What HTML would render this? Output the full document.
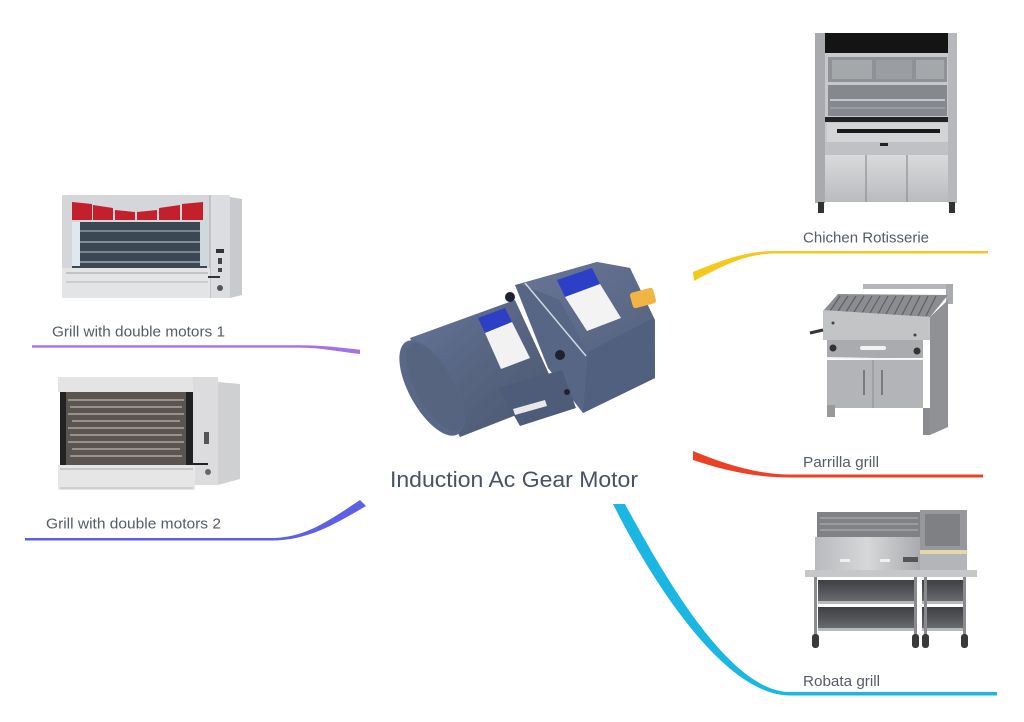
<!DOCTYPE html>
<html>
<head>
<meta charset="utf-8">
<style>
  html,body{margin:0;padding:0;background:#fff;}
  body{width:1024px;height:722px;overflow:hidden;}
  svg{display:block;}
  text{font-family:"Liberation Sans", Arial, sans-serif;}
</style>
</head>
<body>
<svg width="1024" height="722" viewBox="0 0 1024 722" xmlns="http://www.w3.org/2000/svg">
  <defs>
    <linearGradient id="steel" x1="0" y1="0" x2="0" y2="1">
      <stop offset="0" stop-color="#d9dadc"/>
      <stop offset="1" stop-color="#b9bbbe"/>
    </linearGradient>
    <linearGradient id="steelH" x1="0" y1="0" x2="1" y2="0">
      <stop offset="0" stop-color="#b8babd"/>
      <stop offset="0.5" stop-color="#d6d7d9"/>
      <stop offset="1" stop-color="#a9abae"/>
    </linearGradient>
    <linearGradient id="motorBody" x1="0" y1="0" x2="1" y2="1">
      <stop offset="0" stop-color="#65739a"/>
      <stop offset="0.5" stop-color="#56647f"/>
      <stop offset="1" stop-color="#4a566f"/>
    </linearGradient>
    <linearGradient id="gearTop" x1="0" y1="0" x2="1" y2="1">
      <stop offset="0" stop-color="#687596"/>
      <stop offset="1" stop-color="#56637f"/>
    </linearGradient>
    <linearGradient id="shelf" x1="0" y1="0" x2="0" y2="1">
      <stop offset="0" stop-color="#3e3f42"/>
      <stop offset="1" stop-color="#6d6e71"/>
    </linearGradient>
  </defs>

  <!-- ===== Connector curves ===== -->
  <path d="M32,345.3 L300,345.3 C322,345.3 340,347.5 360,349.8 L360,354 C340,352 322,347.6 300,347.6 L32,347.6 Z" fill="#a472e6"/>
  <path d="M25,538 L272,538 C305,538 330,520 360,500 L366,506 C335,524 308,540.5 272,540.5 L25,540.5 Z" fill="#5d5fe6"/>
  <path d="M693,272 C720,261 745,251 775,251 L988,251 L988,253.5 L775,253.5 C746,253.5 722,266 694,281 Z" fill="#f6c81e"/>
  <path d="M693,451 C722,463 756,474.5 790,474.5 L983,474.5 L983,477.5 L790,477.5 C752,477.5 720,469 693,460 Z" fill="#ec4125"/>
  <path d="M613,504 L625,504 C664,576 730,692 790,692 L997,692 L997,695.5 L790,695.5 C724,695.5 651,580 613,504 Z" fill="#1bb7e2"/>

  <!-- ===== Grill with double motors 1 ===== -->
  <g>
    <rect x="62" y="195" width="148" height="103" fill="#d5d6d9"/>
    <rect x="210" y="195" width="20" height="103" fill="#dcdde0"/>
    <polygon points="230,197 242,199 242,295 230,298" fill="#c9cacd"/>
    <line x1="210" y1="195" x2="210" y2="298" stroke="#a8aaad" stroke-width="1"/>
    <polygon points="72,202 92,204 92,220 72,220" fill="#c41f2c"/>
    <polygon points="93,205 113,208 113,220 93,220" fill="#c41f2c"/>
    <polygon points="115,210 135,212 135,220 115,220" fill="#c41f2c"/>
    <polygon points="137,212 157,210 157,220 137,220" fill="#c41f2c"/>
    <polygon points="159,208 180,205 180,220 159,220" fill="#c41f2c"/>
    <polygon points="182,204 203,202 203,220 182,220" fill="#c41f2c"/>
    <rect x="72" y="222" width="135" height="46" fill="#3c4754"/>
    <rect x="72" y="222" width="8" height="44" fill="#dfe8ee"/>
    <rect x="200" y="222" width="7" height="44" fill="#cfd8de"/>
    <line x1="80" y1="231" x2="200" y2="231" stroke="#8e98a3" stroke-width="1.5"/>
    <line x1="80" y1="242" x2="200" y2="242" stroke="#9aa4ae" stroke-width="1.5"/>
    <line x1="80" y1="252" x2="200" y2="252" stroke="#8e98a3" stroke-width="1.5"/>
    <line x1="80" y1="262" x2="200" y2="262" stroke="#a2acb6" stroke-width="1.5"/>
    <rect x="62" y="268" width="148" height="30" fill="#e3e4e6"/>
    <line x1="66" y1="273" x2="208" y2="273" stroke="#9ea0a4" stroke-width="1"/>
    <line x1="66" y1="282" x2="208" y2="282" stroke="#b4b6b9" stroke-width="1"/>
    <rect x="216" y="249" width="8" height="4" fill="#333"/>
    <rect x="218" y="258" width="4" height="6" fill="#444"/>
    <rect x="218" y="268" width="4" height="4" fill="#444"/>
    <circle cx="220" cy="288" r="3" fill="#555"/>
    <rect x="208" y="276" width="12" height="2" fill="#333"/>
  </g>

  <!-- ===== Grill with double motors 2 ===== -->
  <g>
    <rect x="58" y="377" width="137" height="15" fill="#e4e4e5"/>
    <rect x="193" y="377" width="25" height="108" fill="#dcdcde"/>
    <polygon points="218,382 240,384 240,479 218,485" fill="#cfd0d2"/>
    <rect x="60" y="392" width="133" height="73" fill="#5a5550"/>
    <rect x="60" y="392" width="6" height="73" fill="#222"/>
    <rect x="186" y="392" width="7" height="73" fill="#222"/>
    <g stroke="#bdb7ae" stroke-width="1.3">
      <line x1="68" y1="400" x2="184" y2="400"/>
      <line x1="70" y1="407" x2="182" y2="407"/>
      <line x1="68" y1="414" x2="184" y2="414"/>
      <line x1="72" y1="421" x2="180" y2="421"/>
      <line x1="68" y1="428" x2="184" y2="428"/>
      <line x1="70" y1="435" x2="182" y2="435"/>
      <line x1="68" y1="442" x2="184" y2="442"/>
      <line x1="72" y1="449" x2="180" y2="449"/>
      <line x1="70" y1="456" x2="182" y2="456"/>
    </g>
    <rect x="58" y="465" width="137" height="25" fill="#e6e6e7"/>
    <line x1="60" y1="469" x2="193" y2="469" stroke="#aaa" stroke-width="1"/>
    <line x1="60" y1="488" x2="193" y2="488" stroke="#bbb" stroke-width="1"/>
    <rect x="204" y="432" width="5" height="12" fill="#555"/>
    <circle cx="208" cy="472" r="3" fill="#666"/>
    <rect x="190" y="463" width="18" height="2" fill="#222"/>
  </g>

  <!-- ===== Motor ===== -->
  <g>
    <polygon points="410,338 515,300 560,398 460,437" fill="url(#motorBody)"/>
    <ellipse cx="432" cy="388" rx="23" ry="53" transform="rotate(-29 432 388)" fill="#5a6888"/>
    <ellipse cx="435" cy="387" rx="19" ry="49" transform="rotate(-29 435 387)" fill="#56647f"/>
    <polygon points="515,285 597,262 630,268 655,320 655,378 583,413 548,368" fill="#586685"/>
    <polygon points="520,284 597,262 630,268 653,318 588,352 560,300" fill="url(#gearTop)"/>
    <polygon points="588,352 653,318 655,378 583,413" fill="#526080"/>
    <line x1="525" y1="283" x2="586" y2="356" stroke="#cfd6e4" stroke-width="1.5"/>
    <polygon points="498,388 562,370 576,408 520,426" fill="#4e5b79"/>
    <polygon points="513,409 545,400 547,406 515,415" fill="#e8e8ea"/>
    <circle cx="510" cy="297" r="5" fill="#1e2230"/>
    <circle cx="560" cy="355" r="5" fill="#1e2230"/>
    <circle cx="567" cy="392" r="3" fill="#1e2230"/>
    <polygon points="557,280 592,268 600,284 565,297" fill="#2c3fc6"/>
    <polygon points="565,297 600,284 621,318 587,331" fill="#f3f3f4"/>
    <polygon points="478,318 505,308 512,322 485,333" fill="#2c3fc6"/>
    <polygon points="485,333 512,322 530,358 501,369" fill="#f2f2f3"/>
    <rect x="631" y="290" width="24" height="16" rx="3" fill="#f2b443" transform="rotate(-15 643 298)"/>
  </g>

  <!-- ===== Chichen Rotisserie ===== -->
  <g>
    <rect x="815" y="33" width="10" height="170" fill="#a8aaae"/>
    <rect x="948" y="33" width="9" height="170" fill="#b6b8bb"/>
    <rect x="825" y="33" width="123" height="20" fill="#141414"/>
    <rect x="825" y="53" width="123" height="102" fill="#c6c8cb"/>
    <rect x="828" y="57" width="119" height="25" fill="#8e9195"/>
    <rect x="832" y="60" width="40" height="19" fill="#a5a8ab"/>
    <rect x="876" y="60" width="36" height="19" fill="#9a9da1"/>
    <rect x="916" y="60" width="28" height="19" fill="#a5a8ab"/>
    <rect x="828" y="85" width="119" height="31" fill="#85888c"/>
    <line x1="830" y1="100" x2="945" y2="100" stroke="#c5c7ca" stroke-width="2"/>
    <line x1="830" y1="108" x2="945" y2="108" stroke="#b0b2b5" stroke-width="1"/>
    <rect x="825" y="117" width="123" height="5" fill="#222"/>
    <rect x="827" y="123" width="121" height="19" fill="#d3d4d6"/>
    <rect x="837" y="129" width="103" height="4" fill="#1a1a1a"/>
    <rect x="825" y="142" width="123" height="13" fill="#bfc1c4"/>
    <rect x="880" y="143" width="8" height="3" fill="#222"/>
    <rect x="825" y="155" width="123" height="47" fill="url(#steel)"/>
    <line x1="866" y1="155" x2="866" y2="202" stroke="#8d8f92" stroke-width="1.2"/>
    <line x1="907" y1="155" x2="907" y2="202" stroke="#8d8f92" stroke-width="1.2"/>
    <rect x="818" y="202" width="6" height="11" fill="#333"/>
    <rect x="949" y="202" width="6" height="11" fill="#333"/>
  </g>

  <!-- ===== Parrilla grill ===== -->
  <g>
    <rect x="863" y="284" width="90" height="5" fill="#b5b7ba"/>
    <rect x="946" y="284" width="7" height="20" fill="#a9abae"/>
    <polygon points="823,311 838,294 948,295 930,317" fill="#8b8d90"/>
    <g stroke="#5e6063" stroke-width="1.2">
      <line x1="840" y1="296" x2="830" y2="311"/>
      <line x1="848" y1="296" x2="838" y2="311"/>
      <line x1="856" y1="296" x2="846" y2="312"/>
      <line x1="864" y1="296" x2="854" y2="312"/>
      <line x1="872" y1="296" x2="862" y2="313"/>
      <line x1="880" y1="296" x2="870" y2="313"/>
      <line x1="888" y1="296" x2="878" y2="314"/>
      <line x1="896" y1="296" x2="886" y2="314"/>
      <line x1="904" y1="296" x2="894" y2="315"/>
      <line x1="912" y1="296" x2="902" y2="315"/>
      <line x1="920" y1="296" x2="910" y2="316"/>
      <line x1="928" y1="296" x2="918" y2="316"/>
      <line x1="936" y1="296" x2="926" y2="316"/>
    </g>
    <polygon points="823,310 930,317 930,340 823,340" fill="#c3c4c6"/>
    <polygon points="930,317 948,300 948,427 930,435" fill="#8f9194"/>
    <rect x="827" y="340" width="96" height="18" fill="#a9abae"/>
    <circle cx="833" cy="348" r="3.5" fill="#333"/>
    <circle cx="917" cy="351" r="3.5" fill="#333"/>
    <rect x="860" y="346" width="26" height="4" rx="2" fill="#f2f2f2"/>
    <line x1="827" y1="358" x2="923" y2="360" stroke="#f4f4f4" stroke-width="2"/>
    <rect x="827" y="360" width="96" height="48" fill="#b2b4b7"/>
    <line x1="873" y1="360" x2="873" y2="408" stroke="#8a8c8f" stroke-width="1"/>
    <line x1="864" y1="370" x2="864" y2="395" stroke="#666" stroke-width="1.5"/>
    <line x1="882" y1="370" x2="882" y2="395" stroke="#666" stroke-width="1.5"/>
    <rect x="827" y="405" width="8" height="12" fill="#999"/>
    <rect x="923" y="408" width="7" height="27" fill="#8a8c8f"/>
    <line x1="810" y1="333" x2="823" y2="330" stroke="#333" stroke-width="3"/>
    <circle cx="833" cy="323" r="1.5" fill="#444"/>
    <circle cx="915" cy="335" r="1.5" fill="#444"/>
  </g>

  <!-- ===== Robata grill ===== -->
  <g>
    <rect x="817" y="512" width="103" height="25" fill="#808184"/>
    <g stroke="#b4b5b8" stroke-width="1">
      <line x1="820" y1="518" x2="918" y2="518"/>
      <line x1="820" y1="524" x2="918" y2="524"/>
      <line x1="820" y1="530" x2="918" y2="530"/>
    </g>
    <rect x="815" y="537" width="105" height="35" fill="url(#steelH)"/>
    <rect x="920" y="510" width="47" height="40" fill="#97989b"/>
    <rect x="925" y="514" width="35" height="32" fill="#7f8083"/>
    <rect x="920" y="550" width="47" height="4" fill="#e4d7ad"/>
    <rect x="920" y="554" width="47" height="18" fill="#b4b5b8"/>
    <rect x="840" y="559" width="10" height="3" fill="#f0f0f0"/>
    <rect x="880" y="559" width="10" height="3" fill="#f0f0f0"/>
    <rect x="903" y="557" width="15" height="5" fill="#555"/>
    <rect x="805" y="570" width="172" height="7" fill="#c6c7c9"/>
    <rect x="818" y="580" width="99" height="23" fill="url(#shelf)"/>
    <rect x="818" y="607" width="99" height="23" fill="url(#shelf)"/>
    <rect x="922" y="580" width="43" height="23" fill="url(#shelf)"/>
    <rect x="922" y="607" width="43" height="23" fill="url(#shelf)"/>
    <rect x="818" y="601" width="99" height="3" fill="#b8b9bb"/>
    <rect x="818" y="628" width="99" height="3" fill="#b8b9bb"/>
    <rect x="922" y="601" width="43" height="3" fill="#b8b9bb"/>
    <rect x="922" y="628" width="43" height="3" fill="#b8b9bb"/>
    <rect x="814" y="577" width="3" height="58" fill="#8a8b8e"/>
    <rect x="914" y="577" width="3" height="58" fill="#8a8b8e"/>
    <rect x="924" y="577" width="3" height="58" fill="#8a8b8e"/>
    <rect x="963" y="577" width="3" height="58" fill="#8a8b8e"/>
    <rect x="812" y="634" width="7" height="14" rx="3" fill="#3a3a3a"/>
    <rect x="912" y="634" width="7" height="14" rx="3" fill="#3a3a3a"/>
    <rect x="922" y="634" width="7" height="14" rx="3" fill="#3a3a3a"/>
    <rect x="961" y="634" width="7" height="14" rx="3" fill="#3a3a3a"/>
  </g>

  <!-- ===== Labels ===== -->
  <text x="390" y="487" font-size="22" fill="#4a5163" textLength="248" lengthAdjust="spacingAndGlyphs">Induction Ac Gear Motor</text>
  <text x="52" y="336.7" font-size="15" fill="#555b67" textLength="173" lengthAdjust="spacingAndGlyphs">Grill with double motors 1</text>
  <text x="46" y="528.3" font-size="15" fill="#555b67" textLength="175" lengthAdjust="spacingAndGlyphs">Grill with double motors 2</text>
  <text x="803" y="242.5" font-size="15" fill="#555b67" textLength="126" lengthAdjust="spacingAndGlyphs">Chichen Rotisserie</text>
  <text x="803" y="467" font-size="15" fill="#555b67" textLength="76" lengthAdjust="spacingAndGlyphs">Parrilla grill</text>
  <text x="803" y="686" font-size="15" fill="#555b67" textLength="77" lengthAdjust="spacingAndGlyphs">Robata grill</text>
</svg>
</body>
</html>
